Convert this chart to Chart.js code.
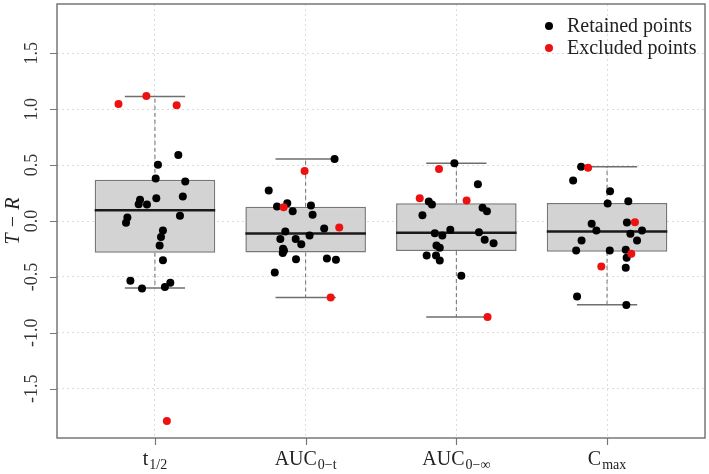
<!DOCTYPE html>
<html>
<head>
<meta charset="utf-8">
<script src="https://cdn.jsdelivr.net/npm/chart.js@4.4.1/dist/chart.umd.min.js"></script>
<style>
  html, body { margin: 0; padding: 0; background: #fff; }
  #wrap { width: 709px; height: 474px; }
</style>
</head>
<body>
<div id="wrap"><canvas id="chart"></canvas></div>
<script>
const categories = ['t', 'AUC', 'AUC', 'C'];
const subscripts = ['1/2', '0\u2212t', '0\u2212\u221e', 'max'];
const yTicks = [-1.5, -1, -0.5, 0, 0.5, 1, 1.5];

// box statistics per category
const boxQ1 = [-0.284, -0.281, -0.269, -0.275];
const boxMedian = [0.096, -0.112, -0.106, -0.094];
const boxQ3 = [0.368, 0.127, 0.159, 0.162];
const whiskerLow = [-0.600, -0.683, -0.859, -0.748];
const whiskerHigh = [1.114, 0.555, 0.516, 0.484];

// retained points (values and horizontal jitter)
const retainedValues = [
  [0.591, 0.502, 0.379, 0.353, 0.219, 0.204, 0.189, 0.150, 0.147, 0.046, 0.031, -0.016, -0.085, -0.144, -0.219, -0.350, -0.534, -0.603, -0.591, -0.552],
  [0.555, 0.272, 0.159, 0.129, 0.138, 0.088, 0.055, -0.067, -0.094, -0.129, -0.162, -0.162, -0.207, -0.248, -0.263, -0.287, -0.341, -0.335, -0.347, -0.460],
  [0.516, 0.329, 0.174, 0.147, 0.118, 0.088, 0.052, -0.079, -0.109, -0.129, -0.100, -0.168, -0.198, -0.219, -0.240, -0.308, -0.308, -0.353, -0.490],
  [0.484, 0.362, 0.266, 0.156, 0.177, -0.013, -0.025, -0.085, -0.114, -0.085, -0.174, -0.174, -0.263, -0.263, -0.257, -0.329, -0.418, -0.674, -0.752]
];
const retainedJitter = [
  [0.155, 0.020, 0.005, 0.201, 0.185, 0.009, -0.099, -0.108, -0.053, 0.166, -0.183, -0.192, 0.053, 0.040, 0.031, 0.053, -0.163, -0.086, 0.066, 0.102],
  [0.192, -0.245, -0.122, -0.190, 0.035, -0.086, 0.046, 0.123, -0.135, 0.026, -0.168, -0.066, -0.029, -0.150, -0.144, -0.152, -0.064, 0.141, 0.201, -0.205],
  [-0.013, 0.143, -0.183, -0.162, 0.174, 0.203, -0.225, -0.040, -0.143, -0.093, 0.150, 0.188, 0.247, -0.132, -0.110, -0.197, -0.135, -0.110, 0.033],
  [-0.172, -0.225, 0.020, 0.004, 0.141, 0.132, -0.102, -0.071, 0.155, 0.232, -0.169, 0.199, -0.205, 0.018, 0.124, 0.130, 0.124, -0.199, 0.128]
];

// excluded points
const excludedValues = [
  [1.046, 1.118, 1.034, -1.787],
  [0.448, 0.123, -0.058, -0.683],
  [0.466, 0.204, 0.183, -0.859],
  [0.475, -0.011, -0.293, -0.406]
];
const excludedJitter = [
  [-0.242, -0.057, 0.144, 0.079],
  [-0.007, -0.146, 0.223, 0.166],
  [-0.115, -0.243, 0.068, 0.207],
  [-0.126, 0.185, 0.161, -0.038]
];

const SERIF = '"Liberation Serif", "DejaVu Serif", serif';

function toPoints(values, jitter) {
  const pts = [];
  values.forEach((vals, i) => {
    vals.forEach((v, j) => pts.push({ x: i + 1 + jitter[i][j], y: v }));
  });
  return pts;
}

// medians, whiskers and caps drawn right after the boxes
const boxExtras = {
  id: 'boxExtras',
  afterDatasetDraw(chart, args) {
    if (args.meta.type !== 'bar') return;
    const ctx = chart.ctx;
    const y = chart.scales.y;
    ctx.save();
    args.meta.data.forEach((bar, i) => {
      const { x, width } = bar.getProps(['x', 'width'], true);
      // whiskers
      ctx.strokeStyle = '#6f6f6f';
      ctx.lineWidth = 1;
      ctx.setLineDash([4, 3]);
      ctx.beginPath();
      ctx.moveTo(x, y.getPixelForValue(boxQ3[i]));
      ctx.lineTo(x, y.getPixelForValue(whiskerHigh[i]));
      ctx.moveTo(x, y.getPixelForValue(boxQ1[i]));
      ctx.lineTo(x, y.getPixelForValue(whiskerLow[i]));
      ctx.stroke();
      // caps
      ctx.setLineDash([]);
      ctx.lineWidth = 1.5;
      ctx.beginPath();
      ctx.moveTo(x - width / 4, y.getPixelForValue(whiskerHigh[i]));
      ctx.lineTo(x + width / 4, y.getPixelForValue(whiskerHigh[i]));
      ctx.moveTo(x - width / 4, y.getPixelForValue(whiskerLow[i]));
      ctx.lineTo(x + width / 4, y.getPixelForValue(whiskerLow[i]));
      ctx.stroke();
      // median
      ctx.strokeStyle = '#1a1a1a';
      ctx.lineWidth = 2.5;
      ctx.beginPath();
      ctx.moveTo(x - width / 2, y.getPixelForValue(boxMedian[i]));
      ctx.lineTo(x + width / 2, y.getPixelForValue(boxMedian[i]));
      ctx.stroke();
    });
    ctx.restore();
  }
};

// plot frame, tick marks, x labels with subscripts, legend
const decorations = {
  id: 'decorations',
  beforeDatasetsDraw(chart) {
    const { ctx, chartArea: a } = chart;
    const { x, y } = chart.scales;
    ctx.save();
    ctx.strokeStyle = '#777';
    ctx.lineWidth = 1.5;
    ctx.strokeRect(a.left, a.top, a.right - a.left, a.bottom - a.top);
    ctx.lineWidth = 1.2;
    ctx.beginPath();
    x.ticks.forEach(t => {
      const px = Math.round(x.getPixelForValue(t.value)) + 0.5;
      ctx.moveTo(px, a.bottom);
      ctx.lineTo(px, a.bottom + 7);
    });
    y.ticks.forEach(t => {
      const py = Math.round(y.getPixelForValue(t.value)) + 0.5;
      ctx.moveTo(a.left, py);
      ctx.lineTo(a.left - 7, py);
    });
    ctx.stroke();
    ctx.restore();
  },
  afterDraw(chart) {
    const { ctx, chartArea: a } = chart;
    const x = chart.scales.x;
    ctx.save();
    ctx.fillStyle = '#222';
    ctx.textBaseline = 'alphabetic';
    ctx.textAlign = 'left';
    categories.forEach((c, i) => {
      const px = x.getPixelForValue(i + 1);
      ctx.font = '20px ' + SERIF;
      const wMain = ctx.measureText(c).width;
      ctx.font = '14px ' + SERIF;
      const wSub = ctx.measureText(subscripts[i]).width;
      const start = px - (wMain + wSub + 1) / 2;
      ctx.font = '20px ' + SERIF;
      ctx.fillText(c, start, 465);
      ctx.font = '14px ' + SERIF;
      ctx.fillText(subscripts[i], start + wMain + 1, 469);
    });

    // legend
    ctx.font = '20px ' + SERIF;
    ctx.textBaseline = 'middle';
    const items = [chart.data.datasets[0], chart.data.datasets[1]];
    items.forEach((ds, k) => {
      const ly = a.top + 22 + k * 22;
      ctx.fillStyle = ds.backgroundColor;
      ctx.beginPath();
      ctx.arc(a.right - 156, ly, 4, 0, Math.PI * 2);
      ctx.fill();
      ctx.fillStyle = '#222';
      ctx.fillText(ds.label, a.right - 138, ly + 1);
    });
    ctx.restore();
  }
};

new Chart(document.getElementById('chart'), {
  type: 'scatter',
  data: {
    datasets: [
      {
        label: 'Retained points',
        data: toPoints(retainedValues, retainedJitter),
        backgroundColor: '#000',
        borderWidth: 0,
        pointRadius: 4,
        order: 1
      },
      {
        label: 'Excluded points',
        data: toPoints(excludedValues, excludedJitter),
        backgroundColor: '#ee1111',
        borderWidth: 0,
        pointRadius: 4,
        order: 0
      },
      {
        type: 'bar',
        label: 'box',
        data: categories.map((c, i) => ({ x: i + 1, y: [boxQ1[i], boxQ3[i]] })),
        backgroundColor: '#d3d3d3',
        borderColor: '#777',
        borderWidth: 1.5,
        borderSkipped: false,
        barPercentage: 0.8,
        categoryPercentage: 1,
        order: 2
      }
    ]
  },
  options: {
    responsive: true,
    maintainAspectRatio: false,
    animation: false,
    layout: { padding: { top: 3, right: 3, left: 0, bottom: 0 } },
    plugins: {
      legend: { display: false },
      tooltip: { enabled: false }
    },
    scales: {
      x: {
        type: 'linear',
        min: 0.35,
        max: 4.65,
        offset: false,
        afterBuildTicks: s => { s.ticks = categories.map((c, i) => ({ value: i + 1 })); },
        afterFit: s => { s.height = 36; s.paddingLeft = 0; s.paddingRight = 0; },
        ticks: { display: false },
        grid: { offset: false, color: '#dcdcdc', lineWidth: 1, drawTicks: false },
        border: { display: false, dash: [2, 3] }
      },
      y: {
        min: -1.94,
        max: 1.94,
        afterBuildTicks: s => { s.ticks = yTicks.map(v => ({ value: v })); },
        afterFit: s => { s.width = 57; s.paddingTop = 0; s.paddingBottom = 0; },
        ticks: {
          minRotation: 90,
          maxRotation: 90,
          crossAlign: 'center',
          padding: 10,
          color: '#333',
          font: { family: SERIF, size: 18 },
          callback: v => v.toFixed(1)
        },
        grid: { color: '#dcdcdc', lineWidth: 1, drawTicks: false },
        border: { display: false, dash: [2, 3] },
        title: {
          display: true,
          text: 'T \u2212 R',
          color: '#222',
          padding: { top: 2, bottom: 0 },
          font: { family: SERIF, size: 20, style: 'italic' }
        }
      }
    }
  },
  plugins: [boxExtras, decorations]
});
</script>
</body>
</html>
